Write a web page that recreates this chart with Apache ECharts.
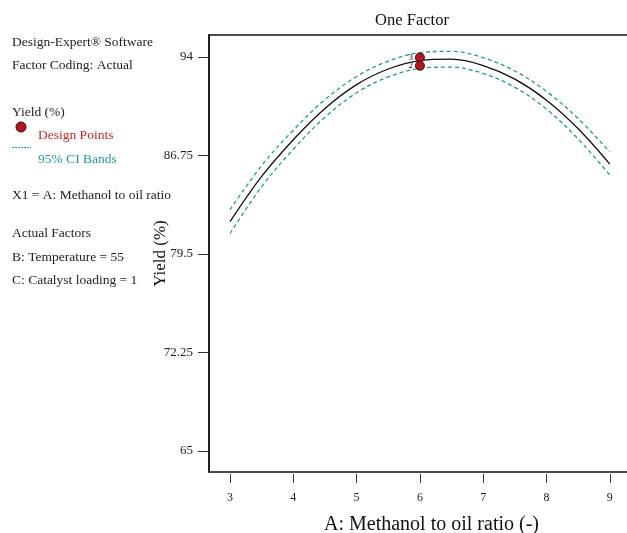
<!DOCTYPE html>
<html>
<head>
<meta charset="utf-8">
<script src="https://cdn.jsdelivr.net/npm/echarts@6/dist/echarts.min.js"></script>
<style>
  html, body { margin: 0; padding: 0; background: #fff; }
  #chart { width: 627px; height: 533px; }
</style>
</head>
<body>
<div id="chart"></div>
<script>
// values
var xValues = [3, 3.5, 4, 4.5, 5, 5.5, 6, 6.5, 7, 7.5, 8, 8.5, 9];
var yieldMean = [81.87, 85.2, 87.9, 90.2, 91.95, 93.1, 93.72, 93.82, 93.35, 92.35, 90.8, 88.7, 86.1];
var ciUpper = [82.75, 86.0, 88.6, 90.85, 92.55, 93.68, 94.3, 94.4, 93.93, 92.95, 91.45, 89.45, 87.0];
var ciLower = [81.0, 84.45, 87.2, 89.55, 91.35, 92.52, 93.14, 93.24, 92.77, 91.75, 90.15, 87.95, 85.3];
var designX = [6, 6];
var designY = [93.95, 93.34];
var designReps = [3, 2];
var xTicks = [3, 4, 5, 6, 7, 8, 9];
var yTicks = [65, 72.25, 79.5, 86.75, 94];

var serif = "Liberation Serif";
var teal = "#1f9a9a";

function pairs(xs, ys) {
  return xs.map(function (x, i) { return [x, ys[i]]; });
}

var chart = echarts.init(document.getElementById("chart"));

var noteLines = [
  { t: "Design-Expert\u00ae Software", y: 42 },
  { t: "Factor Coding: Actual", y: 65 },
  { t: "Yield (%)", y: 112 },
  { t: "X1 = A: Methanol to oil ratio", y: 195 },
  { t: "Actual Factors", y: 233 },
  { t: "B: Temperature = 55", y: 257 },
  { t: "C: Catalyst loading = 1", y: 280 }
];

function txt(x, y, s, size, color, align) {
  return {
    type: "text", x: x, y: y,
    style: {
      text: s, font: size + "px '" + serif + "'", fill: color,
      align: align || "left", verticalAlign: "middle"
    }
  };
}

var graphics = noteLines.map(function (n) {
  return txt(12, n.y, n.t, 13.5, "#222");
});
graphics.push(
  {
    type: "circle", shape: { cx: 21, cy: 127, r: 5 },
    style: { fill: "#b3161c", stroke: "#3a0a0a", lineWidth: 1 }
  },
  txt(38, 135, "Design Points", 13.5, "#c4262c"),
  {
    type: "line", shape: { x1: 12, y1: 147.5, x2: 31, y2: 147.5 },
    style: { stroke: teal, lineWidth: 1, lineDash: [2, 1] }
  },
  txt(38, 159, "95% CI Bands", 13.5, teal),
  txt(412, 21, "One Factor", 16.5, "#111", "center")
);

var option = {
  animation: false,
  backgroundColor: "#fff",
  textStyle: { fontFamily: serif },
  graphic: graphics,
  grid: {
    left: 209, top: 35, right: -1, bottom: 61,
    outerBoundsMode: "none",
    containLabel: false,
    show: true, borderColor: "#111", borderWidth: 1.5
  },
  xAxis: {
    type: "value", min: 2.668, max: 9.287, offset: 2,
    name: "A: Methanol to oil ratio (-)",
    nameLocation: "middle", nameGap: 41, nameMoveOverlap: false,
    nameTextStyle: { fontFamily: serif, fontSize: 20, color: "#111", padding: [0, 0, 0, 26] },
    splitLine: { show: false },
    axisLine: { show: false },
    axisTick: { show: true, length: 9, customValues: xTicks, lineStyle: { color: "#333" } },
    axisLabel: { customValues: xTicks, margin: 18, fontFamily: serif, fontSize: 12, color: "#222" }
  },
  yAxis: {
    type: "value", min: 63.46, max: 95.6,
    name: "Yield (%)", nameLocation: "middle", nameGap: 40, nameMoveOverlap: false,
    nameTextStyle: { fontFamily: serif, fontSize: 17, color: "#111" },
    splitLine: { show: false },
    axisLine: { show: true, lineStyle: { color: "#111", width: 1.5 } },
    axisTick: { show: true, length: 11, customValues: yTicks, lineStyle: { color: "#333" } },
    axisLabel: { customValues: yTicks, margin: 16, fontFamily: serif, fontSize: 13, color: "#222" }
  },
  series: [
    {
      name: "upper", type: "line", data: pairs(xValues, ciUpper), smooth: 0.35,
      symbol: "none", lineStyle: { color: teal, width: 1.3, type: [4, 3] }
    },
    {
      name: "lower", type: "line", data: pairs(xValues, ciLower), smooth: 0.35,
      symbol: "none", lineStyle: { color: teal, width: 1.3, type: [4, 3] }
    },
    {
      name: "Yield", type: "line", data: pairs(xValues, yieldMean), smooth: 0.35,
      symbol: "none", lineStyle: { color: "#111", width: 1.3 }
    },
    {
      name: "Design Points", type: "scatter",
      data: designX.map(function (x, i) { return [x, designY[i], designReps[i]]; }),
      symbolSize: 9,
      itemStyle: { color: "#b3161c", borderColor: "#3a0a0a", borderWidth: 1, opacity: 1 },
      label: {
        show: true, position: "left", distance: 2,
        formatter: function (p) { return String(p.value[2]); },
        fontFamily: serif, fontSize: 9, color: "#222"
      },
      labelLayout: { hideOverlap: false },
      z: 5
    }
  ]
};

chart.setOption(option);
</script>
</body>
</html>
